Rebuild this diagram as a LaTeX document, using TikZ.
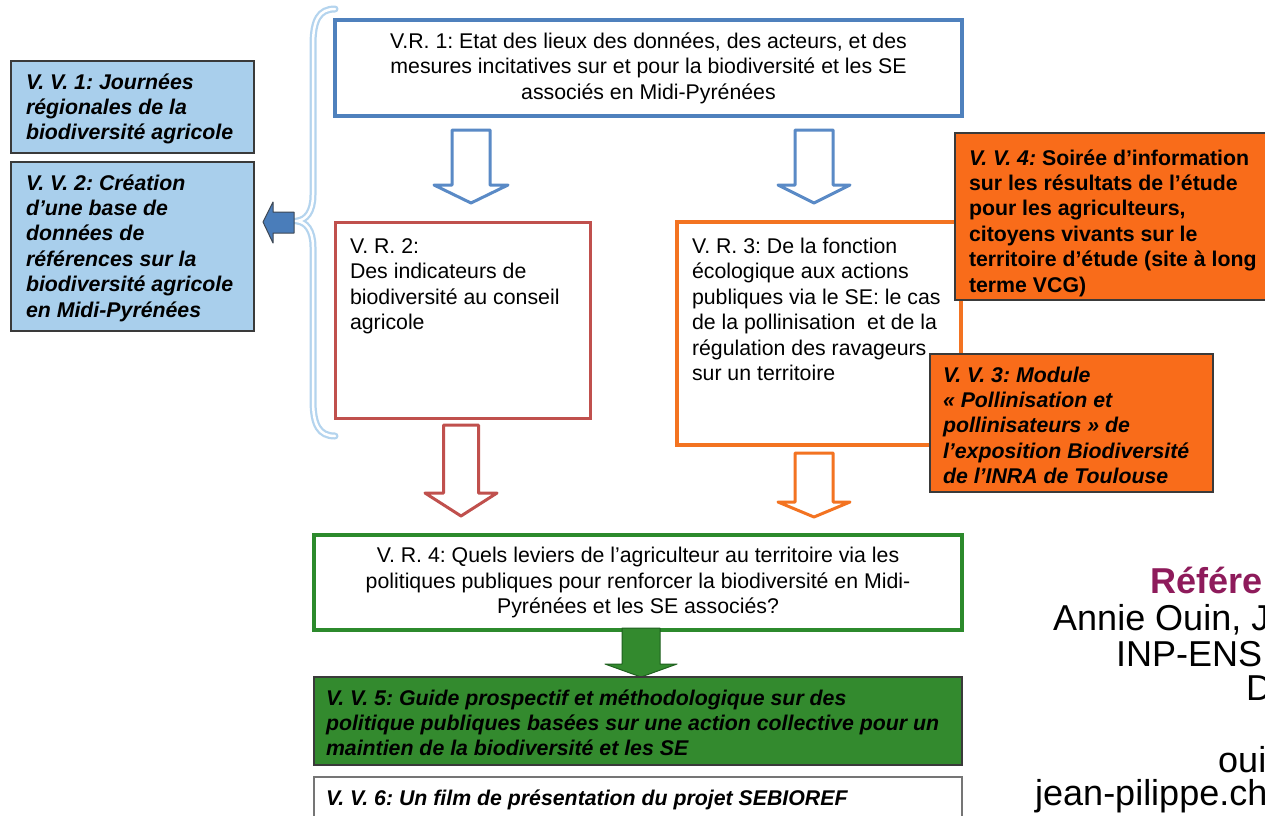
\documentclass[tikz,border=0pt]{standalone}
\usepackage{fontspec}
\setmainfont{Liberation Sans}
\frenchspacing
\definecolor{vvblue}{HTML}{A9CFEC}
\definecolor{darkbd}{HTML}{3A3A3A}
\definecolor{bluearr}{HTML}{4A7DBA}
\definecolor{bracecol}{HTML}{B4D4EE}
\definecolor{vrblue}{HTML}{4F81BD}
\definecolor{arrblue}{HTML}{5A8AC6}
\definecolor{vrred}{HTML}{C0504D}
\definecolor{orline}{HTML}{F37321}
\definecolor{orfill}{HTML}{F96C1A}
\definecolor{vrgreen}{HTML}{2C8A2C}
\definecolor{grfill}{HTML}{338A2E}
\definecolor{refpurple}{HTML}{8E1B5B}
\newcommand\tst{\rule{0pt}{17pt}}
\newcommand\dnarrow[7]{\draw[#1] ({#2-#3},#5) -- ({#2+#3},#5) -- ({#2+#3},#6) -- ({#2+#4},#6) -- (#2,#7) -- ({#2-#4},#6) -- ({#2-#3},#6) -- cycle;}
\tikzset{
  boxsty/.style={rectangle, inner sep=0pt, outer sep=0pt, anchor=north west},
  vrfont/.style={font=\fontsize{21.3}{25.5}\selectfont},
  vvfont/.style={font=\fontsize{21.3}{25.4}\selectfont\bfseries\itshape},
  txtR/.style={anchor=north west, inner sep=0pt, outer sep=0pt, align=left, vrfont},
  txtV/.style={anchor=north west, inner sep=0pt, outer sep=0pt, align=left, vvfont},
  vvbox/.style={boxsty, draw=darkbd, line width=1.5pt},
  harrow/.style={draw=#1, fill=white, line width=3pt, line join=round},
  reftxt/.style={anchor=base west, inner sep=0pt, font=\fontsize{36}{36}\selectfont}
}
\begin{document}
\begin{tikzpicture}[x=1pt,y=-1pt]
\useasboundingbox (0,0) rectangle (1265,815);
\clip (0,0) rectangle (1265,815);
\fill[white] (0,0) rectangle (1265,815);

% left V.V. boxes
\node[vvbox, fill=vvblue, minimum width=243pt, minimum height=92pt] (vv1) at (11,61) {};
\node[txtV] (vv1t) at (26,89-17) {\tst V. V. 1: Journées\\régionales de la\\biodiversité agricole};
\node[vvbox, fill=vvblue, minimum width=243pt, minimum height=169pt] (vv2) at (11,162) {};
\node[txtV] (vv2t) at (26,190-17) {\tst V. V. 2: Création\\d’une base de\\données de\\références sur la\\biodiversité agricole\\en Midi-Pyrénées};

% brace
\coordinate (btip) at (297,221);
\draw[bracecol, line width=7pt, line cap=round]
  (335,9) .. controls (319,9) and (313,20) .. (313,45) -- (313,195)
  .. controls (313,212) and (306,220) .. (btip)
  .. controls (306,222) and (313,230) .. (313,247) -- (313,400)
  .. controls (313,425) and (319,436) .. (335,436);
\draw[white, line width=2.5pt, line cap=round]
  (335,9) .. controls (319,9) and (313,20) .. (313,45) -- (313,195)
  .. controls (313,212) and (306,220) .. (btip)
  .. controls (306,222) and (313,230) .. (313,247) -- (313,400)
  .. controls (313,425) and (319,436) .. (335,436);

% left blue arrow
\draw[fill=bluearr, draw=darkbd!80!bluearr, line width=1pt, line join=round]
  (294,212) -- (294,233) -- (273,233) -- (273,243) -- (263,222) -- (273,202) -- (273,212) -- cycle;

% V.R.1
\node[boxsty, draw=vrblue, line width=4pt, minimum width=627pt, minimum height=96pt, align=center, vrfont] (vr1) at (335,20)
  {V.R. 1: Etat des lieux des données, des acteurs, et des\\mesures incitatives sur et pour la biodiversité et les SE\\associés en Midi-Pyrénées};

% blue hollow arrows
\dnarrow{harrow=arrblue}{471}{19}{37}{130}{185}{203}
\dnarrow{harrow=arrblue}{814}{19}{36}{130}{185}{203}

% V.R.2
\node[boxsty, draw=vrred, line width=3pt, minimum width=255pt, minimum height=196pt] (vr2) at (335,222) {};
\node[txtR] (vr2t) at (350,253-17) {\tst V. R. 2:\\Des indicateurs de\\biodiversité au conseil\\agricole};

% V.R.3
\node[boxsty, draw=orline, line width=4.5pt, minimum width=284pt, minimum height=223pt] (vr3) at (677,222) {};
\node[txtR] (vr3t) at (692,253-17) {\tst V. R. 3: De la fonction\\écologique aux actions\\publiques via le SE: le cas\\de la pollinisation \ et de la\\régulation des ravageurs\\sur un territoire};

% V.V.4 and V.V.3
\node[vvbox, fill=orfill, minimum width=320pt, minimum height=167pt] (vv4) at (955,133) {};
\node[txtV, font=\fontsize{21.3}{25.4}\selectfont\bfseries] (vv4t) at (969,165-17) {\tst\textit{V. V. 4:} Soirée d’information\\sur les résultats de l’étude\\pour les agriculteurs,\\citoyens vivants sur le\\territoire d’étude (site à long\\terme VCG)};
\node[vvbox, fill=orfill, minimum width=283pt, minimum height=138pt] (vv3) at (930,354) {};
\node[txtV] (vv3t) at (943,382-17) {\tst V. V. 3: Module\\« Pollinisation et\\pollinisateurs » de\\l’exposition Biodiversité\\de l’INRA de Toulouse};

% red and orange hollow arrows
\dnarrow{harrow=vrred}{461}{17.5}{36}{425}{493}{516}
\dnarrow{harrow=orline}{814}{19}{36}{453}{502}{517}

% V.R.4
\node[boxsty, draw=vrgreen, line width=3.5pt, minimum width=648pt, minimum height=95pt, align=center, vrfont] (vr4) at (314,535)
  {V. R. 4: Quels leviers de l’agriculteur au territoire via les\\politiques publiques pour renforcer la biodiversité en Midi-\\Pyrénées et les SE associés?};

% green arrow
\draw[fill=grfill, draw=vrgreen!70!black, line width=1pt, line join=round]
  (622,628) -- (660,628) -- (660,664) -- (677,664) -- (641,677) -- (605,664) -- (622,664) -- cycle;

% V.V.5 and V.V.6
\node[vvbox, fill=grfill, minimum width=648pt, minimum height=88pt] (vv5) at (314,677) {};
\node[txtV] (vv5t) at (326,705-17) {\tst V. V. 5: Guide prospectif et méthodologique sur des\\politique publiques basées sur une action collective pour un\\maintien de la biodiversité et les SE};
\node[boxsty, draw=darkbd!70, line width=1.5pt, minimum width=648pt, minimum height=60pt] (vv6) at (314,777) {};
\node[txtV] (vv6t) at (326,805-17) {\tst V. V. 6: Un film de présentation du projet SEBIOREF};

% reference text (cut at right edge, as in the source)
\node[reftxt, text=refpurple, font=\fontsize{36}{36}\selectfont\bfseries] (ref1) at (1150,593) {Référe};
\node[reftxt] (ref2) at (1053,630) {Annie Ouin, J};
\node[reftxt] (ref3) at (1116,666) {INP-ENS};
\node[reftxt] (ref4) at (1246,700) {D};
\node[reftxt] (ref5) at (1218,772) {oui};
\node[reftxt] (ref6) at (1035,805) {jean-pilippe.ch};
\end{tikzpicture}
\end{document}
